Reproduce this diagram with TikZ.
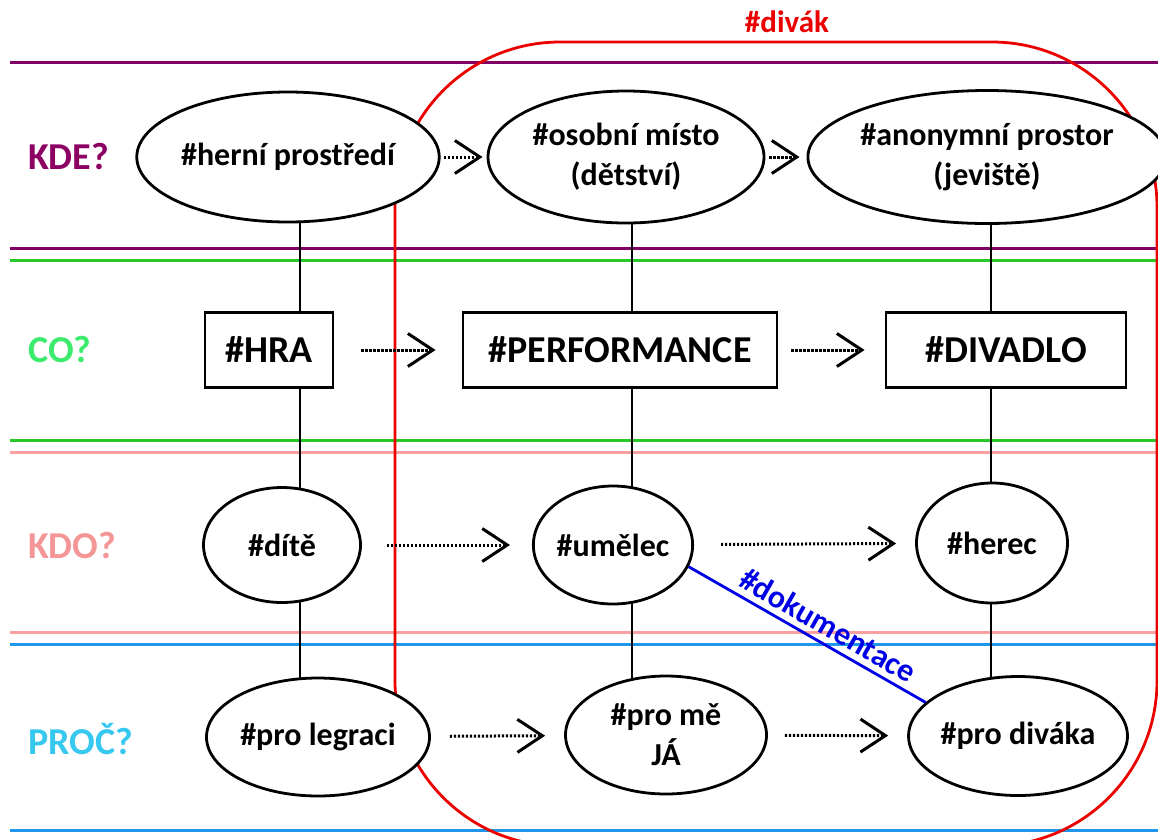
\documentclass[tikz,border=0pt]{standalone}
\usepackage{fontspec}
\setmainfont{Carlito}
\usepackage{xcolor}
\usetikzlibrary{arrows.meta,positioning,shapes.geometric,backgrounds}

\definecolor{kdeline}{RGB}{128,0,100}
\definecolor{kdetext}{RGB}{140,0,100}
\definecolor{coline}{RGB}{40,200,40}
\definecolor{cotext}{RGB}{60,235,110}
\definecolor{kdoline}{RGB}{250,160,160}
\definecolor{kdotext}{RGB}{245,150,150}
\definecolor{procline}{RGB}{30,150,235}
\definecolor{proctext}{RGB}{55,200,240}
\definecolor{divred}{RGB}{235,0,0}
\definecolor{dokblue}{RGB}{0,0,230}

\begin{document}
\begin{tikzpicture}[
  x=1pt, y=-1pt,
  place/.style  ={draw, ellipse, line width=2.8pt, fill=white, inner sep=0pt,
                  align=center, font=\fontsize{32}{40}\selectfont\bfseries},
  thing/.style  ={draw, rectangle, line width=2.8pt, fill=white, inner sep=0pt,
                  minimum height=75pt, font=\fontsize{38}{44}\selectfont\bfseries},
  rowlab/.style ={anchor=west, inner sep=0pt, font=\fontsize{38}{44}\selectfont\bfseries},
  band/.style   ={line width=3pt},
  link/.style   ={line width=2.8pt},
  flow/.style   ={line width=3pt, dash pattern=on 2.2pt off 1.8pt,
                  -{Straight Barb[length=25pt,width=33pt]}},
  divak/.style  ={draw=divred, line width=2.8pt, rounded corners=165pt},
  doku/.style   ={draw=dokblue, line width=2.8pt},
]

\useasboundingbox (0,0) rectangle (1158,839);

% ---------------- row labels --------------------------------------------
\node[rowlab, text=kdetext]  (kde)  at (28,157) {KDE?};
\node[rowlab, text=cotext]   (co)   at (28,350) {CO?};
\node[rowlab, text=kdotext]  (kdo)  at (28,545) {KDO?};
\node[rowlab, text=proctext] (proc) at (28,739) {PROČ?};

% ---------------- KDE? ----------------------------------------------------
\node[place, minimum width=278pt, minimum height=130pt] (herni)  at (288,157)
  {\#herní prostředí};
\node[place, minimum width=276pt, minimum height=132pt] (osobni) at (626,157)
  {\#osobní místo\\(dětství)};
\node[place, minimum width=305pt, minimum height=133pt] (anonym) at (987,157)
  {\#anonymní prostor\\(jeviště)};

% ---------------- CO? -----------------------------------------------------
\node[thing, minimum width=128pt] (hra)     at (269,350) {\#HRA};
\node[thing, minimum width=314pt] (perf)    at (620,350) {\#PERFORMANCE};
\node[thing, minimum width=240pt] (divadlo) at (1006,350) {\#DIVADLO};

% ---------------- KDO? ----------------------------------------------------
\node[place, minimum width=157pt, minimum height=115pt] (dite)   at (282,545) {\#dítě};
\node[place, minimum width=156pt, minimum height=118pt] (umelec) at (613,545) {\#umělec};
\node[place, minimum width=151pt, minimum height=120pt] (herec)  at (992,543) {\#herec};

% ---------------- PROČ? ---------------------------------------------------
\node[place, minimum width=223pt, minimum height=118pt] (legraci)   at (318,737) {\#pro legraci};
\node[place, minimum width=201pt, minimum height=118pt] (prome)     at (666,735) {\#pro mě\\JÁ};
\node[place, minimum width=201pt, minimum height=119pt] (prodivaka) at (1018,736) {\#pro diváka};

% ---------------- bands, audience frame, columns --------------------------
\coordinate (colA) at (300,0);
\coordinate (colB) at (632,0);
\coordinate (colC) at (991,0);

\begin{scope}[on background layer]
  \draw[band, kdeline]  (10,62)  -- (1158,62);
  \draw[band, kdeline]  (10,248) -- (1158,248);
  \draw[band, coline]   (10,260) -- (1158,260);
  \draw[band, coline]   (10,440) -- (1158,440);
  \draw[band, kdoline]  (10,452) -- (1158,452);
  \draw[band, kdoline]  (10,632) -- (1158,632);
  \draw[band, procline] (10,644) -- (1158,644);
  \draw[band, procline] (10,830) -- (1158,830);

  \draw[divak] (395,42) rectangle (1157,846);

  \draw[link] (herni.center -| colA)  -- (legraci.center -| colA);
  \draw[link] (osobni.center -| colB) -- (prome.center -| colB);
  \draw[link] (anonym.center -| colC) -- (prodivaka.center -| colC);
\end{scope}

\node[text=divred, font=\fontsize{31}{36}\selectfont\bfseries] (divaklab) at (787,22) {\#divák};

% ---------------- shifts between the columns ------------------------------
\draw[flow, shorten <=3pt,  shorten >=4pt]  (herni)  -- (osobni);
\draw[flow, shorten <=4pt,  shorten >=7pt]  (osobni) -- (anonym);
\draw[flow, shorten <=27pt, shorten >=26pt] (hra)    -- (perf);
\draw[flow, shorten <=13pt, shorten >=20pt] (perf)   -- (divadlo);
\draw[flow, shorten <=25pt, shorten >=22pt] (dite)   -- (umelec);
\draw[flow, shorten <=27pt, shorten >=19pt] (umelec) -- (herec);
\draw[flow, shorten <=19pt, shorten >=19pt] (legraci) -- (prome);
\draw[flow, shorten <=17pt, shorten >=19pt] (prome)  -- (prodivaka);

% ---------------- documentation shortcut ----------------------------------
\draw[doku] (umelec.-16) -- node[sloped, above, pos=0.55, inner sep=6pt, text=dokblue,
  font=\fontsize{32}{36}\selectfont\bfseries] {\#dokumentace} (prodivaka.160);

\end{tikzpicture}
\end{document}
